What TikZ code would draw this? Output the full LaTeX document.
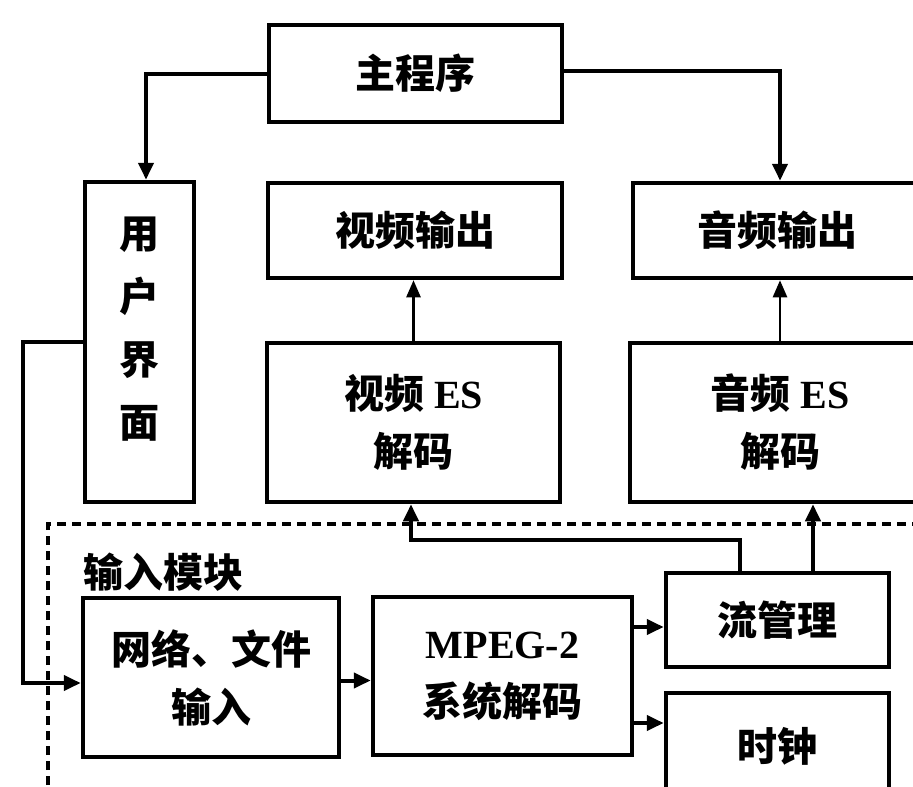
\documentclass[tikz,border=0pt]{standalone}
\usepackage{fontspec}
\setmainfont{Liberation Serif}
\newfontfamily\cjk{Noto Sans CJK SC}
\usetikzlibrary{arrows.meta}
\tikzset{
  box/.style={draw, line width=4.5pt, inner sep=0pt, align=center,
    font=\bfseries\fontsize{40}{58}\selectfont},
  conn/.style={line width=4pt, -{Triangle[length=17pt,width=15pt]}},
  thinconn/.style={line width=2.5pt, -{Triangle[length=17pt,width=14pt]}},
  region/.style={line width=3.5pt, dash pattern=on 9pt off 6pt},
  lbl/.style={font=\bfseries\fontsize{40}{58}\selectfont, inner sep=0pt}
}
\begin{document}
\begin{tikzpicture}[x=1pt,y=-1pt]
\useasboundingbox (0,0) rectangle (913,787);
\fill[white] (0,0) rectangle (913,787);
\clip (0,0) rectangle (913,787);
% boxes
\node[box, minimum width=293pt, minimum height=97pt] (main) at (415.5,73.5) {\cjk 主程序};
\node[box, minimum width=109pt, minimum height=320pt, text depth=30pt, font=\bfseries\fontsize{40}{63}\selectfont] (ui) at (139.5,342) {{\cjk 用}\\ {\cjk 户}\\ {\cjk 界}\\ {\cjk 面}};
\node[box, minimum width=294pt, minimum height=95pt] (vout) at (415,230.5) {\cjk 视频输出};
\node[box, minimum width=289pt, minimum height=95pt] (aout) at (777.5,230.5) {\cjk 音频输出};
\node[box, minimum width=293pt, minimum height=159pt] (vdec) at (413.5,422.5) {{\cjk 视频} ES\\ {\cjk 解码}};
\node[box, minimum width=300pt, minimum height=159pt] (adec) at (780,422.5) {{\cjk 音频} ES\\ {\cjk 解码}};
\node[box, minimum width=256pt, minimum height=159pt] (net) at (211,677.5) {{\cjk 网络、文件}\\ {\cjk 输入}};
\node[box, minimum width=259pt, minimum height=158pt] (mpeg) at (502.5,676) {MPEG-2\\ {\cjk 系统解码}};
\node[box, minimum width=223pt, minimum height=94pt] (flow) at (777.5,620) {\cjk 流管理};
\node[box, minimum width=223pt, minimum height=107pt] (clock) at (777.5,746.5) {\cjk 时钟};
% input module region
\coordinate (rtl) at (48,524);
\draw[region] (48,800) -- (rtl) -- (930,524);
\node[lbl] (modlabel) at (163,572) {\cjk 输入模块};
% connectors
\draw[conn] (main.west) -| ([xshift=6.5pt]ui.north);
\draw[conn] ([yshift=3pt]main.east) -| ([xshift=2.5pt]aout.north);
\draw[thinconn] (vdec.north) -- (vdec.north |- vout.south);
\draw[thinconn] (adec.north) -- (adec.north |- aout.south);
\coordinate (bend) at (23,683);
\draw[conn] (ui.west) -| (bend) -- ([yshift=-5.5pt]net.west);
\draw[conn] ([yshift=-3pt]net.east) -- ([yshift=-3pt]net.east -| mpeg.west);
\draw[conn] ([yshift=-7pt]flow.west -| mpeg.east) -- ([yshift=-7pt]flow.west);
\draw[conn] ([yshift=23.5pt]clock.west -| mpeg.east) -- ([yshift=23.5pt]clock.west);
\coordinate (j1) at (411,540);
\draw[conn] ([xshift=-37.5pt]flow.north) |- (j1) -- (j1 |- vdec.south);
\draw[conn] ([xshift=35.5pt]flow.north) -- ([xshift=35.5pt]flow.north |- adec.south);
\end{tikzpicture}
\end{document}
